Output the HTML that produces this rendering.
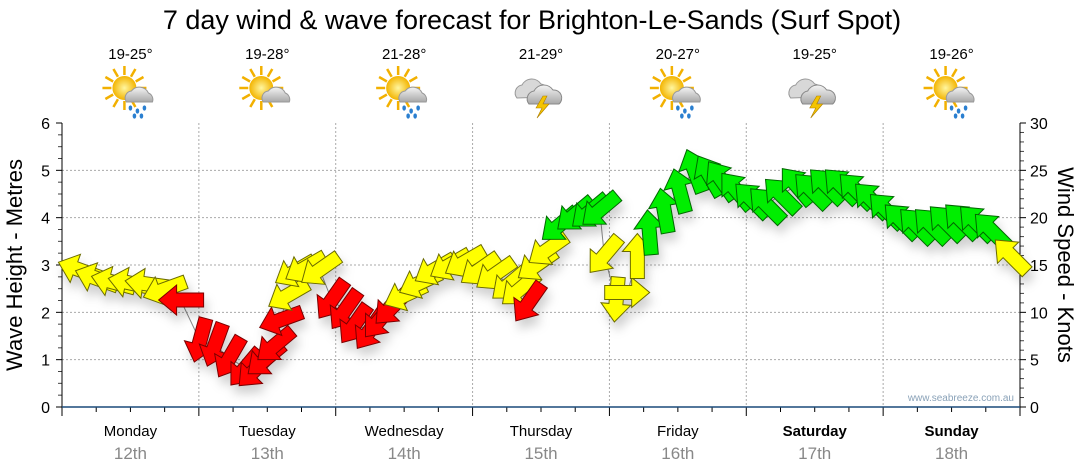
<!DOCTYPE html>
<html><head><meta charset="utf-8"><style>
body{margin:0;background:#fff;}
svg{display:block;font-family:"Liberation Sans",Verdana,sans-serif;}
</style></head><body>
<svg id="c" width="1080" height="475" viewBox="0 0 1080 475">
<defs>
<filter id="sh" x="-50%" y="-50%" width="200%" height="200%"><feDropShadow dx="3" dy="8" stdDeviation="5" flood-color="#000" flood-opacity="0.18"/></filter>
<radialGradient id="sun" cx="0.5" cy="0.5" r="0.5"><stop offset="0" stop-color="#fff6a0"/><stop offset="1" stop-color="#f3b400"/></radialGradient>
<linearGradient id="cloud" x1="0" y1="0" x2="0" y2="1"><stop offset="0" stop-color="#f4f4f4"/><stop offset="1" stop-color="#a8a8a8"/></linearGradient>
</defs>
<text x="532" y="29" text-anchor="middle" font-size="27" fill="#000">7 day wind &amp; wave forecast for Brighton-Le-Sands  (Surf Spot)</text>
<g id="grid"></g>
<g id="axes"></g>
<g id="icons"></g>
<g id="marks"></g>
<text x="1014" y="401" text-anchor="end" font-size="10" fill="#8aa2b8">www.seabreeze.com.au</text>
<text transform="translate(22,265) rotate(-90)" text-anchor="middle" font-size="22" fill="#000">Wave Height - Metres</text>
<text transform="translate(1058,265) rotate(90)" text-anchor="middle" font-size="22" fill="#000">Wind Speed - Knots</text>
</svg>
<script>
const days = ["Monday","Tuesday","Wednesday","Thursday","Friday","Saturday","Sunday"];
const dates = ["12th","13th","14th","15th","16th","17th","18th"];
const temps = ["19-25°","19-28°","21-28°","21-29°","20-27°","19-25°","19-26°"];
const icons = ["rain","sun","rain","storm","rain","storm","rain"];
const waveTicks = [0,1,2,3,4,5,6];
const knotTicks = [0,5,10,15,20,25,30];
const hours = [3,6,8.9,11.9,14.9,17.9,20.8, 24.2,26.8,29.4,32.1,33.8,35.6,37.3,38.3,39.6,40.8,42.6,45.2,
 47.3,49.6,51.3,54,55.7,57.8,60.1,62.7,65.3,68,70.6, 73.2,75.9,78.5,80.2,81.8,83.2,85.1,87.2,89.9,92.5,94.3,95.1,
 97.2,99.2,100.9,103,105.6,108.3,110.9,113.5,115.6,118.2, 120.9,123.5,126.1,128.8,131.4,134,136.6,139.2,141.9,
 144.5,147.1,149.8,152.4,155,157.7,160.3,162.9,166.4];
const knots = [14.5,13.6,13.2,13.1,13,12.4,11.3, 7,6.5,5.2,4.1,3.9,5,6.5,9.2,11.8,14.3,14.7,14.5,
 11.3,10.2,8.7,8.1,9.2,10.5,11.8,13.1,14.5,15,15.3, 14.5,14,13,12.4,11,15,16.6,19.2,20.3,20.6,20.8,16,
 11.3,12.1,16,18.5,20.8,22.9,25,24.5,24,22.9, 21.9,21.4,22.4,23.4,22.9,23.4,23.4,22.9,21.9,
 20.8,19.7,19.2,19.2,19.5,19.7,19.5,18.7,16];
const dirs = [200,200,195,192,188,160,180, 105,110,120,130,135,140,140,160,150,150,150,145,
 125,125,125,125,130,135,155,155,150,150,150, 145,145,140,140,125,145,145,140,140,140,140,130,
 95,0,270,265,260,255,250,240,235,230, 225,225,225,230,225,225,225,225,225,
 225,225,225,225,225,225,225,225,225];
const colors = ["y","y","y","y","y","y","r", "r","r","r","r","r","r","r","r","y","y","y","y",
 "r","r","r","r","r","r","y","y","y","y","y", "y","y","y","y","r","y","y","g","g","g","g","y",
 "y","y","y","g","g","g","g","g","g","g", "g","g","g","g","g","g","g","g","g",
 "g","g","g","g","g","g","g","g","y"];

const NS="http://www.w3.org/2000/svg";
const X0=62,X1=1020,Y0=407,Y1=123;
const dayW=(X1-X0)/7;
const xH=h=>X0+h/24*dayW;
const yM=m=>Y0-(m/6)*(Y0-Y1);
const yK=k=>Y0-(k/30)*(Y0-Y1);
function mk(t,a,p){const e=document.createElementNS(NS,t);for(const k in a)e.setAttribute(k,a[k]);if(p)p.appendChild(e);return e;}
const grid=document.getElementById('grid'),axes=document.getElementById('axes'),ic=document.getElementById('icons'),marks=document.getElementById('marks');

waveTicks.forEach(v=>{
  if(v>0&&v<6){const l=mk('line',{x1:X0,x2:X1,y1:yM(v),y2:yM(v),stroke:'#aaa','stroke-dasharray':'2,2'},grid);
  
  }
  const t=mk('text',{x:X0-12,y:yM(v)+6,'text-anchor':'end','font-size':16},axes);t.textContent=v;
  
  
  mk('line',{x1:X0-6,x2:X0,y1:yM(v),y2:yM(v),stroke:'#000'},axes);
});
for(let m=0.25;m<6;m+=0.25){if(m%1)mk('line',{x1:X0-4,x2:X0,y1:yM(m),y2:yM(m),stroke:'#444'},axes);}
knotTicks.forEach(v=>{
  const t=mk('text',{x:X1+10,y:yK(v)+6,'font-size':16},axes);t.textContent=v;
  
  
  mk('line',{x1:X1,x2:X1+6,y1:yK(v),y2:yK(v),stroke:'#000'},axes);
});
for(let k=1;k<30;k++){if(k%5)mk('line',{x1:X1,x2:X1+4,y1:yK(k),y2:yK(k),stroke:'#444'},axes);}
for(let d=0;d<=7;d++){
  const x=X0+d*dayW;
  if(d>0&&d<7){const l=mk('line',{x1:x,x2:x,y1:Y1,y2:Y0,stroke:'#aaa','stroke-dasharray':'2,2'},grid);
  
  }
  mk('line',{x1:x,x2:x,y1:Y0,y2:Y0+9,stroke:'#000'},axes);
  if(d<7)for(let q=1;q<4;q++)mk('line',{x1:x+q*dayW/4,x2:x+q*dayW/4,y1:Y0,y2:Y0+5,stroke:'#000'},axes);
}
mk('line',{x1:X0,x2:X0,y1:Y1,y2:Y0,stroke:'#000'},axes);
mk('line',{x1:X1,x2:X1,y1:Y1,y2:Y0,stroke:'#000'},axes);
mk('line',{x1:X0,x2:X1,y1:Y0,y2:Y0,stroke:'#1a4a7a','stroke-width':1.5},axes);

days.forEach((d,i)=>{
  const cx=X0+(i+0.5)*dayW;
  const bold=i>=5?'bold':'normal';
  const t=mk('text',{x:cx,y:436,'text-anchor':'middle','font-size':15,'font-weight':bold},axes);t.textContent=d;
  
  
  const t2=mk('text',{x:cx,y:459,'text-anchor':'middle','font-size':17,fill:'#888'},axes);t2.textContent=dates[i];
  
  
  const t3=mk('text',{x:cx,y:59,'text-anchor':'middle','font-size':15},ic);t3.textContent=temps[i];
  
  
  const g=mk('g',{transform:`translate(${cx},92)`},ic);
  
  
  if(icons[i]!=='storm'){
    for(let a=0;a<360;a+=30){const r=a*Math.PI/180;mk('line',{x1:-6+Math.cos(r)*13,y1:-4+Math.sin(r)*13,x2:-6+Math.cos(r)*22,y2:-4+Math.sin(r)*22,stroke:'#f2b000','stroke-width':2.5},g);}
    mk('circle',{cx:-6,cy:-4,r:12,fill:'url(#sun)'},g);
    mk('path',{d:'M-4,10 a7,7 0 0 1 5,-11 a10,10 0 0 1 17,2 a7,7 0 0 1 4,9 z',fill:'url(#cloud)',stroke:'#999'},g);
    if(icons[i]==='rain')[[0,16],[7,19],[14,16],[4,24],[11,24]].forEach(p=>mk('ellipse',{cx:p[0],cy:p[1],rx:1.8,ry:2.6,fill:'#2a7fd0'},g));
  } else {
    mk('path',{d:'M-24,6 a8,8 0 0 1 5,-13 a11,11 0 0 1 19,-1 a8,8 0 0 1 5,13 z',fill:'#d8d8d8',stroke:'#999'},g);
    mk('path',{d:'M-12,12 a8,8 0 0 1 5,-13 a11,11 0 0 1 19,-1 a8,8 0 0 1 6,14 z',fill:'url(#cloud)',stroke:'#888'},g);
    mk('path',{d:'M2,4 L-5,16 L1,16 L-4,26 L8,12 L2,12 L6,4 z',fill:'#f4c400',stroke:'#b08000','stroke-width':0.6},g);
  }
});

let pts=hours.map((h,i)=>xH(h)+','+yK(knots[i])).join(' ');
const pl=mk('polyline',{points:pts,fill:'none',stroke:'#888','stroke-width':1},marks);


const fills={y:'#ffff00',r:'#ff0000',g:'#00ee00'};
const strokes={y:'#6b6b00',r:'#7a0000',g:'#006600'};
const ag=mk('g',{filter:'url(#sh)'},marks);
hours.forEach((h,i)=>{
  const a=mk('polygon',{points:'-23,-7 4,-7 4,-15 22,0 4,15 4,7 -23,7',fill:fills[colors[i]],stroke:strokes[colors[i]],'stroke-width':1,
    transform:`translate(${xH(h)},${yK(knots[i])}) rotate(${dirs[i]})`},ag);
  
  
});
</script>
</body></html>
